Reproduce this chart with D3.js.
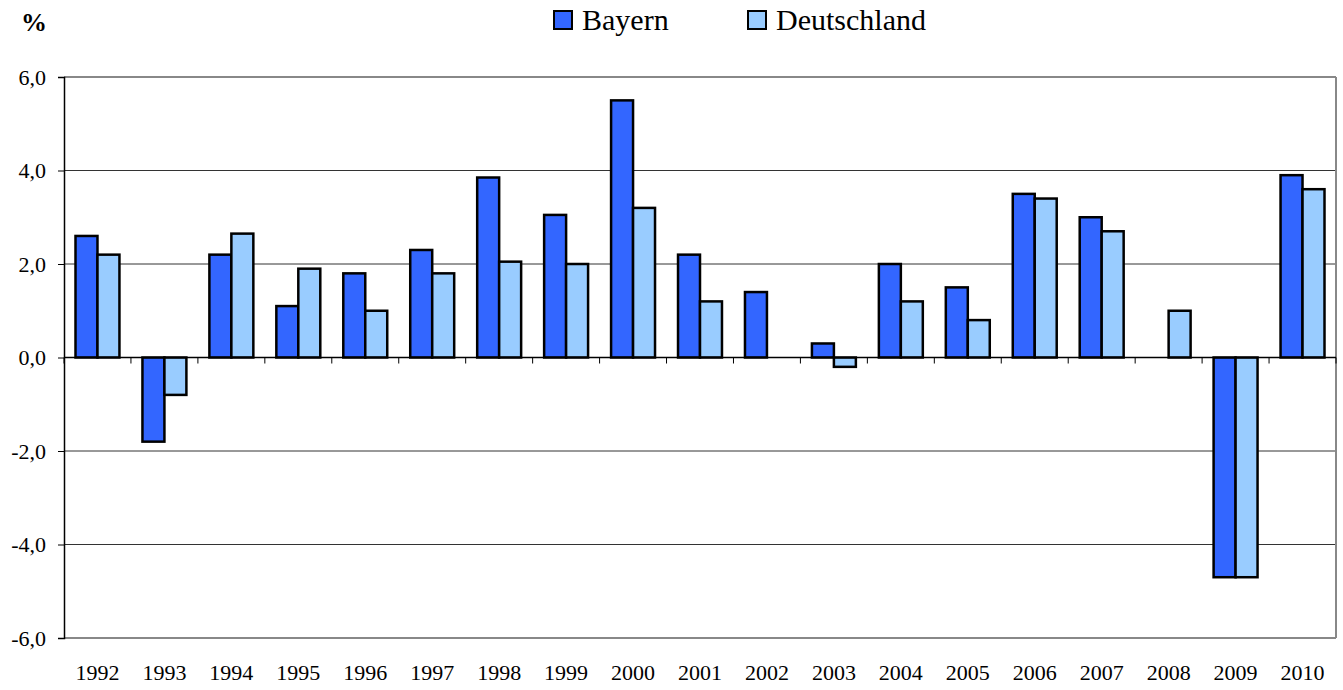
<!DOCTYPE html>
<html><head><meta charset="utf-8">
<script src="https://cdn.jsdelivr.net/npm/d3@7"></script>
<style>
body{margin:0;background:#fff;}
svg{display:block;}
svg text{font-family:"Liberation Serif","Times New Roman",serif !important;fill:#000;}
</style></head>
<body><svg id="c" width="1343" height="690"></svg>
<script>
const years = ["1992","1993","1994","1995","1996","1997","1998","1999","2000","2001","2002","2003","2004","2005","2006","2007","2008","2009","2010"];
const bayern = [2.6,-1.8,2.2,1.1,1.8,2.3,3.85,3.05,5.5,2.2,1.4,0.3,2.0,1.5,3.5,3.0,null,-4.7,3.9];
const deutschland = [2.2,-0.8,2.65,1.9,1.0,1.8,2.05,2.0,3.2,1.2,null,-0.2,1.2,0.8,3.4,2.7,1.0,-4.7,3.6];
const seriesNames = ["Bayern","Deutschland"];
const colors = ["#3366FF","#99CCFF"];
const yTicks = [-6,-4,-2,0,2,4,6];

const svg = d3.select("#c");
const L=64,R=1336,T=77,B=638;
const x = d3.scaleBand().domain(years).range([L,R]).padding(0);
const x1 = d3.scaleBand().domain(seriesNames).range([11.5, x.bandwidth()-11.5]).padding(0);
const y = d3.scaleLinear().domain([-6,6]).range([B,T]);
const fmt = v => d3.format(".1f")(v).replace(".",",").replace("\u2212","-");

// gridlines
svg.append("g").selectAll("line").data(yTicks.filter(v=>v!==0)).join("line")
  .attr("x1",L).attr("x2",R).attr("y1",d=>y(d)).attr("y2",d=>y(d))
  .attr("stroke",d=>(d===6||d===-6)?"#888":"#333").attr("stroke-width",d=>(d===6||d===-6)?2:1);
// right border
svg.append("line").attr("x1",R).attr("x2",R).attr("y1",T).attr("y2",B).attr("stroke","#888").attr("stroke-width",2);

// y axis
const yAxis = d3.axisLeft(y).tickValues(yTicks).tickFormat(fmt).tickSize(6).tickPadding(12);
const gy = svg.append("g").attr("transform",`translate(${L},0)`).call(yAxis);
gy.select(".domain").attr("stroke","#000").attr("stroke-width",1.5);
gy.selectAll(".tick line").attr("stroke","#000");
gy.selectAll("text").attr("font-size",22);

// bars
const data = years.map((yr,i)=>({yr, vals:[bayern[i],deutschland[i]]}));
const g = svg.append("g");
data.forEach(d=>{
  d.vals.forEach((v,j)=>{
    if(v===null) return;
    g.append("rect")
      .attr("x", x(d.yr)+x1(seriesNames[j]))
      .attr("width", x1.bandwidth())
      .attr("y", y(Math.max(0,v)))
      .attr("height", Math.abs(y(v)-y(0)))
      .attr("fill", colors[j]).attr("stroke","#000").attr("stroke-width",2.5);
  });
});

// zero axis
svg.append("line").attr("x1",L).attr("x2",R).attr("y1",y(0)).attr("y2",y(0)).attr("stroke","#000").attr("stroke-width",1.5);
svg.append("g").selectAll("line").data(years.concat(["end"])).join("line")
  .attr("x1",(d,i)=>L+i*x.bandwidth()).attr("x2",(d,i)=>L+i*x.bandwidth())
  .attr("y1",y(0)).attr("y2",y(0)+6).attr("stroke","#000").attr("stroke-width",1);
// year labels
const gx = svg.append("g").attr("transform",`translate(0,${B})`).call(d3.axisBottom(x).tickSize(0).tickPadding(26));
gx.select(".domain").remove();
gx.selectAll("text").attr("font-size",22);

// % label
svg.append("text").attr("x",21).attr("y",31).attr("font-size",26).attr("font-weight","bold").text("%");

// legend
const leg = [{n:"Bayern",x:553},{n:"Deutschland",x:747}];
leg.forEach((l,i)=>{
  svg.append("rect").attr("x",l.x+1).attr("y",11).attr("width",18).attr("height",18)
    .attr("fill",colors[i]).attr("stroke","#000").attr("stroke-width",2);
  svg.append("text").attr("x",l.x+29).attr("y",30).attr("font-size",30).text(l.n);
});
</script></body></html>
